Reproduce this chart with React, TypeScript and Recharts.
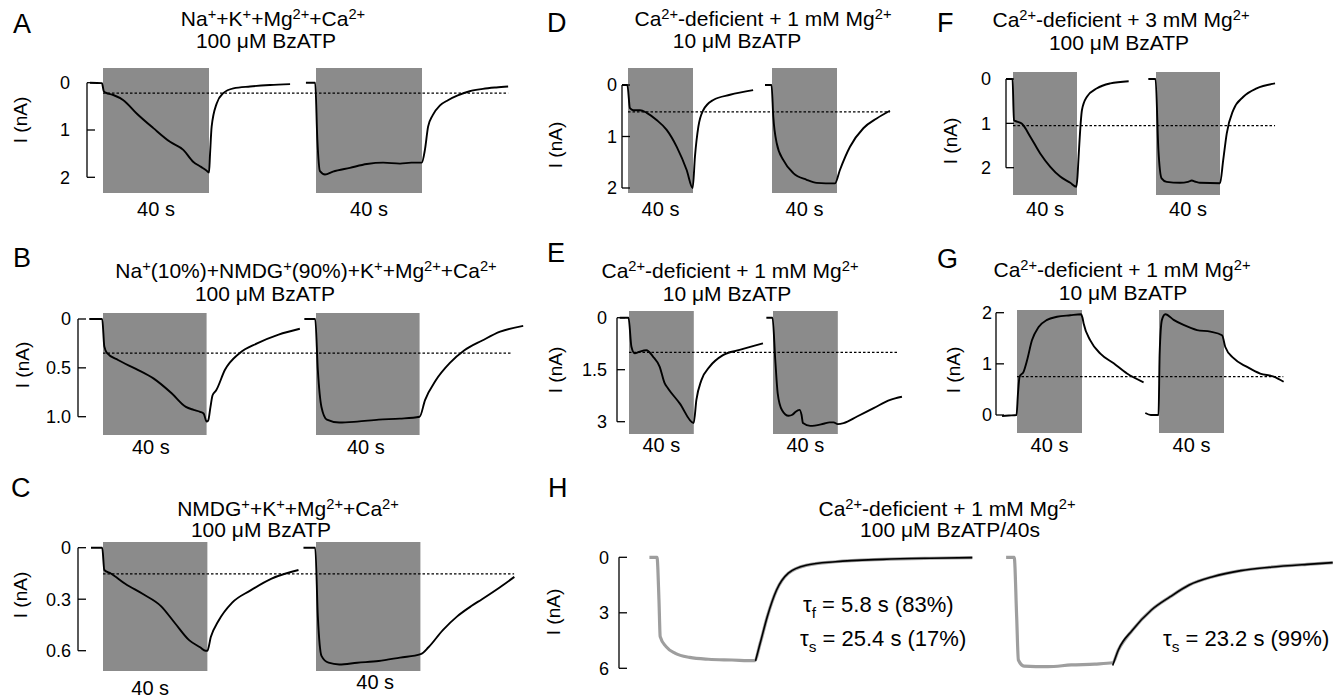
import React from "react";
import { LineChart, Line, XAxis, YAxis, ReferenceArea, ReferenceLine } from "recharts";

// [seconds from BzATP onset, current in nA]
type Pt = [number, number];

const traceA1: Pt[] = [[-4.9, 0], [-0.4, 0.01], [0.3, 0.18], [1, 0.21], [3.9, 0.26], [7.7, 0.37], [12.7, 0.65], [19, 0.96], [25.3, 1.25], [30.3, 1.42], [34, 1.67], [37, 1.78], [38.9, 1.85], [40, 1.9], [40.4, 1.5], [41, 0.93], [42.9, 0.44], [45.4, 0.22], [49.2, 0.12], [55.5, 0.08], [63, 0.05], [70.6, 0.03]];
const traceA2: Pt[] = [[-3.8, 0], [-0.3, 0], [0.5, 1.2], [1.5, 1.87], [3.4, 1.94], [6.4, 1.88], [12.8, 1.8], [19.2, 1.72], [25.3, 1.69], [31.7, 1.71], [36, 1.69], [39.9, 1.69], [41.1, 1.42], [42.3, 0.93], [44, 0.69], [46.8, 0.48], [49.8, 0.37], [53.5, 0.27], [58, 0.18], [63, 0.13], [68, 0.1], [72.5, 0.08]];
const ticksA = [0, 1, 2];
const tickTextA = ["0", "1", "2"];
const dotA = 0.22;

const traceB1: Pt[] = [[-5.3, 0], [-0.3, 0], [0.5, 0.28], [1.6, 0.35], [5.8, 0.42], [12.7, 0.51], [19.6, 0.61], [26.5, 0.76], [32, 0.9], [35, 0.93], [37.5, 0.95], [38.9, 0.97], [40, 1.05], [40.6, 1.04], [41.5, 0.9], [42.3, 0.78], [43.7, 0.73], [47.1, 0.52], [52.7, 0.35], [59.5, 0.25], [67.8, 0.16], [76, 0.1]];
const traceB2: Pt[] = [[-4.5, 0], [-0.3, 0], [0.7, 0.52], [2.1, 0.9], [4.2, 1.03], [9, 1.06], [15.9, 1.05], [24.2, 1.03], [32.4, 1.02], [40, 1.0], [42.1, 0.83], [46.2, 0.63], [51.7, 0.45], [57.3, 0.32], [64.2, 0.22], [71.1, 0.13], [80, 0.07]];
const ticksB = [0, 0.5, 1.0];
const tickTextB = ["0", "0.5", "1.0"];
const dotB = 0.35;

const traceC1: Pt[] = [[-4.6, 0], [-0.3, 0], [0.5, 0.13], [3, 0.15], [8.5, 0.21], [15.3, 0.27], [22.2, 0.34], [27.6, 0.44], [33.1, 0.54], [37.2, 0.58], [39.3, 0.6], [40, 0.6], [41.3, 0.52], [44.1, 0.43], [49.5, 0.32], [56.4, 0.25], [64.6, 0.18], [74.9, 0.13]];
const traceC2: Pt[] = [[-4.8, 0], [-0.3, 0], [0.7, 0.4], [2.1, 0.63], [4.8, 0.67], [8.9, 0.68], [15.8, 0.67], [24, 0.66], [32.2, 0.64], [40.1, 0.62], [43.1, 0.58], [48.6, 0.48], [54.1, 0.4], [59.5, 0.34], [63.6, 0.3], [70.5, 0.23], [76, 0.17]];
const ticksC = [0, 0.3, 0.6];
const tickTextC = ["0", "0.3", "0.6"];
const dotC = 0.153;

const traceD1: Pt[] = [[-3.9, 0], [-0.4, 0], [1.2, 0.45], [3.3, 0.49], [7.4, 0.49], [11.5, 0.54], [17.6, 0.68], [23.8, 0.87], [30, 1.2], [36.1, 1.65], [39.8, 2.0], [41.2, 1.39], [43.3, 0.81], [46.3, 0.49], [52.5, 0.29], [62.8, 0.19], [77, 0.1]];
const traceD2: Pt[] = [[-4.3, 0], [-0.3, 0], [0.8, 0.62], [2.9, 1.13], [7, 1.46], [13.1, 1.71], [21.3, 1.84], [27.5, 1.9], [38.8, 1.91], [41.8, 1.65], [48, 1.2], [56.2, 0.84], [64.4, 0.65], [72.6, 0.5]];
const ticksD = [0, 1, 2];
const tickTextD = ["0", "1", "2"];
const dotD = 0.52;

const traceE1: Pt[] = [[-5.7, 0], [-0.3, 0], [1.5, 0.84], [3.5, 1.03], [6.6, 0.98], [10.7, 0.94], [14.8, 1.12], [18.9, 1.41], [22, 1.89], [24.1, 2.04], [31.3, 2.47], [39.9, 3.04], [41.6, 2.37], [44.7, 1.8], [49.8, 1.41], [58, 1.08], [68.3, 0.93], [82.7, 0.74]];
const traceE2: Pt[] = [[-4.1, 0], [-0.3, 0], [1.4, 1.22], [2.9, 2.18], [5.5, 2.66], [9.6, 2.83], [12, 2.8], [13.8, 2.72], [16.4, 2.66], [17.6, 2.8], [18.5, 3.04], [23, 3.12], [31.2, 3.06], [35, 3.02], [37.4, 3.02], [40, 3.07], [43.6, 3.04], [51.9, 2.85], [62.1, 2.61], [72.4, 2.37], [79.6, 2.28]];
const ticksE = [0, 1.5, 3];
const tickTextE = ["0", "1.5", "3"];
const dotE = 1.0;

const traceF1: Pt[] = [[-4.8, 0], [-0.3, 0], [0.6, 0.93], [2.5, 0.96], [5.6, 1.01], [10.8, 1.3], [17, 1.68], [23.3, 1.98], [29.5, 2.2], [35.8, 2.34], [39.6, 2.43], [40.3, 2.2], [41, 1.75], [43.1, 0.7], [46.2, 0.4], [52.5, 0.21], [60.8, 0.1], [72.3, 0.05]];
const traceF2: Pt[] = [[-4.8, 0], [-0.3, 0], [1.5, 1.6], [3.5, 2.24], [6.7, 2.32], [15, 2.34], [20, 2.32], [22.3, 2.29], [25, 2.32], [27.5, 2.34], [40, 2.35], [42, 1.83], [44.2, 1.23], [48.3, 0.7], [54.6, 0.4], [62.9, 0.21], [74.4, 0.1]];
const ticksF = [0, 1, 2];
const tickTextF = ["0", "1", "2"];
const dotF = 1.05;

const traceG1: Pt[] = [[-9.2, -0.02], [-5, -0.01], [-0.3, 0], [0.6, 0.42], [1.6, 0.75], [4.1, 0.85], [6.2, 1.07], [9.2, 1.46], [13.3, 1.72], [18.5, 1.86], [24.6, 1.92], [32.8, 1.95], [39.4, 1.97], [40.3, 1.9], [41, 1.79], [45.1, 1.46], [51.3, 1.2], [59.5, 1.01], [67.7, 0.81], [77.9, 0.64]];
const traceG2: Pt[] = [[-8.4, 0.04], [-5, 0], [-0.3, 0], [0.4, 1.2], [1.8, 1.86], [3.9, 1.97], [9, 1.86], [15.1, 1.76], [23.4, 1.66], [31.6, 1.63], [38.8, 1.56], [40.8, 1.33], [45.9, 1.11], [54.2, 0.94], [62.3, 0.81], [70.6, 0.75], [76.7, 0.65]];
const ticksG = [0, 1, 2];
const tickTextG = ["0", "1", "2"];
const dotG = 0.75;

const traceH1: Pt[] = [[-3.3, 0], [-0.2, 0], [0.6, 2.3], [1.1, 4.29], [3.5, 4.83], [7.3, 5.19], [13.1, 5.41], [20.8, 5.51], [30.4, 5.55], [39.6, 5.59], [41.9, 4.65], [44.8, 3.21], [48.6, 1.77], [53.4, 0.86], [61.1, 0.42], [72.6, 0.24], [91.9, 0.11], [111.2, 0.05], [128.5, 0.02]];
const fitH1: Pt[] = [[40, 5.6], [41.9, 4.65], [44.8, 3.21], [48.6, 1.77], [53.4, 0.86], [61.1, 0.42], [72.6, 0.24], [91.9, 0.11], [111.2, 0.05], [128.5, 0.02]];
const traceH2: Pt[] = [[-3.5, 0], [-0.2, 0], [0.8, 3.21], [1.5, 5.55], [3.8, 5.88], [13.5, 5.91], [23.1, 5.82], [32.7, 5.77], [40, 5.7], [42.3, 5.01], [48.1, 3.93], [55.8, 2.85], [63.5, 2.13], [71.2, 1.5], [80.8, 1.05], [92.3, 0.72], [103.9, 0.54], [119.3, 0.38], [129.8, 0.29]];
const fitH2: Pt[] = [[40, 5.85], [42.3, 5.01], [48.1, 3.93], [55.8, 2.85], [63.5, 2.13], [71.2, 1.5], [80.8, 1.05], [92.3, 0.72], [103.9, 0.54], [119.3, 0.38], [129.8, 0.29]];
const ticksH = [0, 3, 6];
const tickTextH = ["0", "3", "6"];

const FONT = "'Liberation Sans', Arial, Helvetica, sans-serif";
const BOX = "#8b8b8b";
const YW = 60;
const ROOM = 34;
const TOPROOM = 14;

interface Series {
  pts: Pt[];
  second?: boolean;
  color?: string;
  width?: number;
}

interface PanelCfg {
  axisX: number;
  right: number;
  top: number;
  bottom: number;
  ticks: number[];
  tickText: string[];
  tickY: [number, number];
  tickGap: number;
  pxPerSec: number;
  start1: number;
  start2: number;
  series: Series[];
  dotted?: { level: number; to: number };
  boxes?: boolean;
  labelOffsets?: [number, number];
  labelDx?: [number, number];
}

function Panel({ cfg }: { cfg: PanelCfg }) {
  const { axisX, right, top, bottom, ticks, tickY, pxPerSec, start1, start2 } = cfg;
  const shift = (start2 - start1) / pxPerSec;
  const xMin = (axisX - start1) / pxPerSec;
  const xMax = (right - start1) / pxPerSec;
  const last = ticks[ticks.length - 1];
  const slope = (tickY[1] - tickY[0]) / (last - ticks[0]);
  const valAt = (py: number) => ticks[0] + (py - tickY[0]) / slope;
  const vTop = valAt(top);
  const vBot = valAt(bottom);
  const reversed = vTop < vBot;
  const domain = reversed ? [vTop, vBot] : [vBot, vTop];
  const w = YW + right - axisX;
  const h = TOPROOM + bottom - top + ROOM;
  const offs = cfg.labelOffsets || [8, 8];
  const dxs = cfg.labelDx || [0, 0];

  const renderTick = (p: any) => (
    <g>
      <line x1={YW} x2={YW + 8} y1={p.y} y2={p.y} stroke="#000" strokeWidth={1.3} />
      <text x={YW - cfg.tickGap} y={p.y} dy="0.36em" textAnchor="end" fontSize={18} fill="#000">
        {cfg.tickText[p.index]}
      </text>
    </g>
  );

  return (
    <div style={{ position: "absolute", left: axisX - YW, top: top - TOPROOM }}>
      <LineChart width={w} height={h} margin={{ top: TOPROOM, right: 0, bottom: ROOM, left: 0 }}>
        <XAxis type="number" dataKey="t" domain={[xMin, xMax]} allowDataOverflow hide />
        <YAxis
          type="number"
          width={YW}
          domain={domain}
          reversed={reversed}
          allowDataOverflow
          ticks={ticks}
          interval={0}
          axisLine={false}
          tickLine={false}
          tickSize={0}
          tickMargin={0}
          tick={renderTick}
        />
        {cfg.boxes !== false && (
          <ReferenceArea
            x1={0}
            x2={40}
            fill={BOX}
            fillOpacity={1}
            stroke="none"
            label={{ value: "40 s", position: "bottom", offset: offs[0], dx: dxs[0], fontSize: 20, fill: "#000" }}
          />
        )}
        {cfg.boxes !== false && (
          <ReferenceArea
            x1={shift}
            x2={shift + 40}
            fill={BOX}
            fillOpacity={1}
            stroke="none"
            label={{ value: "40 s", position: "bottom", offset: offs[1], dx: dxs[1], fontSize: 20, fill: "#000" }}
          />
        )}
        {cfg.series.map((s, i) => (
          <Line
            key={i}
            data={s.pts.map(([t, v]) => ({ t: s.second ? t + shift : t, v }))}
            dataKey="v"
            type="monotone"
            stroke={s.color || "#000"}
            strokeWidth={s.width || 1.9}
            dot={false}
            activeDot={false}
            isAnimationActive={false}
          />
        ))}
        <ReferenceLine
          segment={[{ x: xMin, y: ticks[0] }, { x: xMin, y: last }]}
          stroke="#000"
          strokeWidth={1.3}
        />
        {cfg.dotted && (
          <ReferenceLine
            segment={[{ x: 0, y: cfg.dotted.level }, { x: cfg.dotted.to + shift, y: cfg.dotted.level }]}
            stroke="#000"
            strokeWidth={1.2}
            strokeDasharray="2.5 2"
          />
        )}
      </LineChart>
    </div>
  );
}

const panelA: PanelCfg = { axisX: 87, right: 512, top: 68, bottom: 193, ticks: ticksA, tickText: tickTextA, tickY: [82.7, 177.3], tickGap: 17, pxPerSec: 2.65, start1: 103, start2: 316, series: [{ pts: traceA1 }, { pts: traceA2, second: true }], dotted: { level: dotA, to: 72.5 }, labelOffsets: [9, 9] };
const panelB: PanelCfg = { axisX: 78, right: 526, top: 313, bottom: 435, ticks: ticksB, tickText: tickTextB, tickY: [319, 416.7], tickGap: 7, pxPerSec: 2.59, start1: 103, start2: 316, series: [{ pts: traceB1 }, { pts: traceB2, second: true }], dotted: { level: dotB, to: 75.3 }, labelOffsets: [5, 5], labelDx: [-4, -2] };
const panelC: PanelCfg = { axisX: 78, right: 517, top: 542, bottom: 671, ticks: ticksC, tickText: tickTextC, tickY: [547.7, 650.7], tickGap: 7, pxPerSec: 2.61, start1: 103, start2: 316, series: [{ pts: traceC1 }, { pts: traceC2, second: true }], dotted: { level: dotC, to: 75.9 }, labelOffsets: [10, 4], labelDx: [-5, 7] };
const panelD: PanelCfg = { axisX: 622, right: 892, top: 68, bottom: 193, ticks: ticksD, tickText: tickTextD, tickY: [85, 188], tickGap: 5, pxPerSec: 1.625, start1: 628, start2: 772, series: [{ pts: traceD1 }, { pts: traceD2, second: true }], dotted: { level: dotD, to: 72.6 }, labelOffsets: [9, 9] };
const panelE: PanelCfg = { axisX: 617, right: 905, top: 311, bottom: 434, ticks: ticksE, tickText: tickTextE, tickY: [317.7, 421.7], tickGap: 10, pxPerSec: 1.62, start1: 629, start2: 773, series: [{ pts: traceE1 }, { pts: traceE2, second: true }], dotted: { level: dotE, to: 77.3 }, labelOffsets: [4, 4] };
const panelF: PanelCfg = { axisX: 1006, right: 1280, top: 72, bottom: 195, ticks: ticksF, tickText: tickTextF, tickY: [79, 167.7], tickGap: 15, pxPerSec: 1.6, start1: 1013, start2: 1156, series: [{ pts: traceF1 }, { pts: traceF2, second: true }], dotted: { level: dotF, to: 74.4 }, labelOffsets: [7, 7] };
const panelG: PanelCfg = { axisX: 996, right: 1287, top: 310, bottom: 433, ticks: ticksG, tickText: tickTextG, tickY: [415, 312.7], tickGap: 4, pxPerSec: 1.625, start1: 1017, start2: 1159, series: [{ pts: traceG1 }, { pts: traceG2, second: true }], dotted: { level: dotG, to: 76.5 }, labelOffsets: [5, 5] };
const panelH: PanelCfg = { axisX: 619, right: 1336, top: 545, bottom: 680, ticks: ticksH, tickText: tickTextH, tickY: [557.3, 668.3], tickGap: 10, pxPerSec: 2.45, start1: 657.5, start2: 1014.7, boxes: false, series: [{ pts: traceH1, color: "#9e9e9e", width: 3.2 }, { pts: traceH2, second: true, color: "#9e9e9e", width: 3.2 }, { pts: fitH1, width: 1.6 }, { pts: fitH2, second: true, width: 1.6 }] };

const Sup = ({ children }: { children: React.ReactNode }) => (
  <span style={{ fontSize: "0.7em", position: "relative", top: "-0.5em" }}>{children}</span>
);
const Sub = ({ children }: { children: React.ReactNode }) => (
  <span style={{ fontSize: "0.7em", position: "relative", top: "0.35em" }}>{children}</span>
);

function Txt({ x, base, size = 21, align = "center", children }: { x: number; base: number; size?: number; align?: string; children: React.ReactNode }) {
  const style: React.CSSProperties = {
    position: "absolute",
    top: base - size * 0.85,
    fontSize: size,
    lineHeight: `${size}px`,
    whiteSpace: "nowrap",
  };
  if (align === "center") {
    style.left = x - 400;
    style.width = 800;
    style.textAlign = "center";
  } else {
    style.left = x;
  }
  return <div style={style}>{children}</div>;
}

function YLabel({ cx, cy }: { cx: number; cy: number }) {
  return (
    <div
      style={{
        position: "absolute",
        left: cx,
        top: cy,
        fontSize: 19,
        lineHeight: "19px",
        whiteSpace: "nowrap",
        transform: "translate(-50%, -50%) rotate(-90deg)",
      }}
    >
      I (nA)
    </div>
  );
}

const mu = "\u03bc";
const tau = "\u03c4";

export default function App() {
  return (
    <div style={{ position: "absolute", left: 0, top: 0, width: 1339, height: 698, background: "#fff", fontFamily: FONT, color: "#000", overflow: "hidden" }}>
      <Txt x={13} base={34} size={27} align="left">A</Txt>
      <Txt x={273} base={26}>Na<Sup>+</Sup>+K<Sup>+</Sup>+Mg<Sup>2+</Sup>+Ca<Sup>2+</Sup></Txt>
      <Txt x={266} base={48}>100 {mu}M BzATP</Txt>
      <YLabel cx={20} cy={120} />
      <Panel cfg={panelA} />

      <Txt x={547} base={33} size={27} align="left">D</Txt>
      <Txt x={763} base={26}>Ca<Sup>2+</Sup>-deficient + 1 mM Mg<Sup>2+</Sup></Txt>
      <Txt x={737} base={48}>10 {mu}M BzATP</Txt>
      <YLabel cx={555} cy={145} />
      <Panel cfg={panelD} />

      <Txt x={937} base={33} size={27} align="left">F</Txt>
      <Txt x={1121} base={27}>Ca<Sup>2+</Sup>-deficient + 3 mM Mg<Sup>2+</Sup></Txt>
      <Txt x={1119} base={50}>100 {mu}M BzATP</Txt>
      <YLabel cx={950} cy={141} />
      <Panel cfg={panelF} />

      <Txt x={13} base={268} size={27} align="left">B</Txt>
      <Txt x={306} base={278}>Na<Sup>+</Sup>(10%)+NMDG<Sup>+</Sup>(90%)+K<Sup>+</Sup>+Mg<Sup>2+</Sup>+Ca<Sup>2+</Sup></Txt>
      <Txt x={265} base={301}>100 {mu}M BzATP</Txt>
      <YLabel cx={22} cy={365} />
      <Panel cfg={panelB} />

      <Txt x={547} base={263} size={27} align="left">E</Txt>
      <Txt x={730} base={278}>Ca<Sup>2+</Sup>-deficient + 1 mM Mg<Sup>2+</Sup></Txt>
      <Txt x={727} base={301}>10 {mu}M BzATP</Txt>
      <YLabel cx={555} cy={370} />
      <Panel cfg={panelE} />

      <Txt x={937} base={269} size={27} align="left">G</Txt>
      <Txt x={1122} base={277}>Ca<Sup>2+</Sup>-deficient + 1 mM Mg<Sup>2+</Sup></Txt>
      <Txt x={1123} base={300}>10 {mu}M BzATP</Txt>
      <YLabel cx={953} cy={370} />
      <Panel cfg={panelG} />

      <Txt x={11} base={498} size={27} align="left">C</Txt>
      <Txt x={288} base={516}>NMDG<Sup>+</Sup>+K<Sup>+</Sup>+Mg<Sup>2+</Sup>+Ca<Sup>2+</Sup></Txt>
      <Txt x={261} base={537}>100 {mu}M BzATP</Txt>
      <YLabel cx={20} cy={595} />
      <Panel cfg={panelC} />

      <Txt x={548} base={498} size={27} align="left">H</Txt>
      <Txt x={947} base={516}>Ca<Sup>2+</Sup>-deficient + 1 mM Mg<Sup>2+</Sup></Txt>
      <Txt x={950} base={537}>100 {mu}M BzATP/40s</Txt>
      <YLabel cx={553} cy={612} />
      <Panel cfg={panelH} />
      <Txt x={803} base={613} size={22} align="left">{tau}<Sub>f</Sub> = 5.8 s (83%)</Txt>
      <Txt x={800} base={647} size={22} align="left">{tau}<Sub>s</Sub> = 25.4 s (17%)</Txt>
      <Txt x={1163} base={647} size={22} align="left">{tau}<Sub>s</Sub> = 23.2 s (99%)</Txt>
    </div>
  );
}
